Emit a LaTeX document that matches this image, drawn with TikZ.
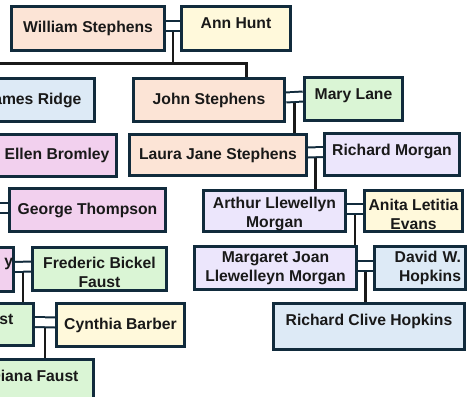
\documentclass[tikz,border=0pt]{standalone}
\usepackage{fontspec}
\setmainfont{Liberation Sans}
\usetikzlibrary{calc,backgrounds}

\definecolor{edge}{HTML}{112B3C}
\definecolor{salmon}{HTML}{FCE4D6}
\definecolor{cream}{HTML}{FFF9DB}
\definecolor{sky}{HTML}{DDEAF6}
\definecolor{mint}{HTML}{DAF5D5}
\definecolor{lilac}{HTML}{ECE6FC}
\definecolor{rose}{HTML}{F2D0EE}

\begin{document}
\begin{tikzpicture}[x=1pt, y=-1pt,
  person/.style={draw=edge, line width=3pt, inner sep=0pt, align=center,
    font=\bfseries\fontsize{15.7}{19}\selectfont, text=black!90},
  raised/.style={text depth=10pt},
  lowered/.style={text height=37pt},
  wed/.style={draw=edge, line width=2pt, double=white, double distance=8pt},
  kin/.style={line width=2.5pt, black!90}]
\useasboundingbox (0,0) rectangle (467,397);

%grandparents
\node[person, fill=salmon, minimum width=153, minimum height=44] (william) at (88,28.5) {William Stephens};
\node[person, raised, fill=cream, minimum width=109, minimum height=44] (ann) at (236,28.5) {Ann Hunt};

%second row
\node[person, fill=sky, minimum width=123, minimum height=43] (james) at (33,100) {James Ridge};
\node[person, fill=salmon, minimum width=151, minimum height=43] (john) at (209,100) {John Stephens};
\node[person, raised, fill=mint, minimum width=98, minimum height=43] (mary) at (353.5,99) {Mary Lane};

%third row
\node[person, fill=rose, minimum width=119, minimum height=42] (ellen) at (57,155.5) {Ellen Bromley};
\node[person, fill=salmon, minimum width=177, minimum height=41] (laura) at (218,155) {Laura Jane Stephens};
\node[person, raised, fill=lilac, minimum width=135, minimum height=42] (richardm) at (392,154.5) {Richard Morgan};

%fourth row
\node[person, fill=rose, minimum width=156, minimum height=43] (george) at (87.5,210) {George Thompson};
\node[person, lowered, fill=lilac, minimum width=142, minimum height=41] (arthur) at (274.5,211) {Arthur Llewellyn\\Morgan};
\node[person, lowered, fill=cream, minimum width=98, minimum height=41] (anita) at (413.5,211) {Anita Letitia\\Evans};

%fifth row
\node[person, fill=rose, minimum width=112, minimum height=44, text width=111, align=right, text depth=14pt] (ybox) at (-42.5,269.5) {y};
\node[person, lowered, fill=mint, minimum width=134, minimum height=43] (frederic) at (99.5,269) {Frederic Bickel\\Faust};
\node[person, fill=lilac, minimum width=162, minimum height=43] (margaret) at (275.5,268) {Margaret Joan\\Llewelleyn Morgan};
\node[person, fill=sky, minimum width=91, minimum height=43, text width=82, align=right] (david) at (420,268) {David W.\\Hopkins};

%sixth row
\node[person, raised, fill=mint, minimum width=82, minimum height=42] (faust) at (-7.5,324.5) {Faust};
\node[person, fill=cream, minimum width=128, minimum height=43] (cynthia) at (120.5,325) {Cynthia Barber};
\node[person, raised, fill=sky, minimum width=191, minimum height=46, text depth=13pt] (richardc) at (369,326.5) {Richard Clive Hopkins};

%last row
\node[person, raised, fill=mint, minimum width=119, minimum height=43] (diana) at (34,381) {Diana Faust};

\coordinate (busL) at (-10,63);
\coordinate (gspouse) at (-20,207.5);

\begin{scope}[on background layer]
%children
\coordinate (wa) at ($(william.east)!.5!(ann.west)$);
\draw[kin] (wa) -- (wa |- busL);
\draw[kin, line width=3pt] (busL) -| ([xshift=37pt]john.north);
\coordinate (jm) at ($(john.east)!.5!(mary.west)$);
\draw[kin] (jm) -- (jm |- laura.north);
\coordinate (lr) at ($(laura.east)!.5!(richardm.west)$);
\draw[kin] (lr) -- (lr |- arthur.north);
\coordinate (aa) at ($(arthur.east)!.5!(anita.west)$);
\draw[kin] (aa) -- (aa |- margaret.north);
\coordinate (md) at ($(margaret.east)!.5!(david.west)$);
\draw[kin] (md) -- (md |- richardc.north);
\coordinate (yf) at ($(ybox.east)!.5!(frederic.west)$);
\draw[kin] (yf) -- (yf |- faust.north);
\coordinate (fc) at ($(faust.east)!.5!(cynthia.west)$);
\draw[kin] (fc) -- (fc |- diana.north);
%marriages
\draw[wed] ([yshift=2.5pt]william.east) -- ([yshift=2.5pt]ann.west);
\draw[wed] ([yshift=2.5pt]john.east) -- ([yshift=2.5pt]mary.west);
\draw[wed] ([yshift=2.5pt]laura.east) -- ([yshift=2.5pt]richardm.west);
\draw[wed] ([yshift=2.5pt]arthur.east) -- ([yshift=2.5pt]anita.west);
\draw[wed] ([yshift=2.5pt]margaret.east) -- ([yshift=2.5pt]david.west);
\draw[wed] (gspouse) -- ([yshift=2.5pt]george.west);
\draw[wed] ([yshift=2.5pt]ybox.east) -- ([yshift=2.5pt]frederic.west);
\draw[wed] ([yshift=2.5pt]faust.east) -- ([yshift=2.5pt]cynthia.west);
\end{scope}
\end{tikzpicture}
\end{document}
